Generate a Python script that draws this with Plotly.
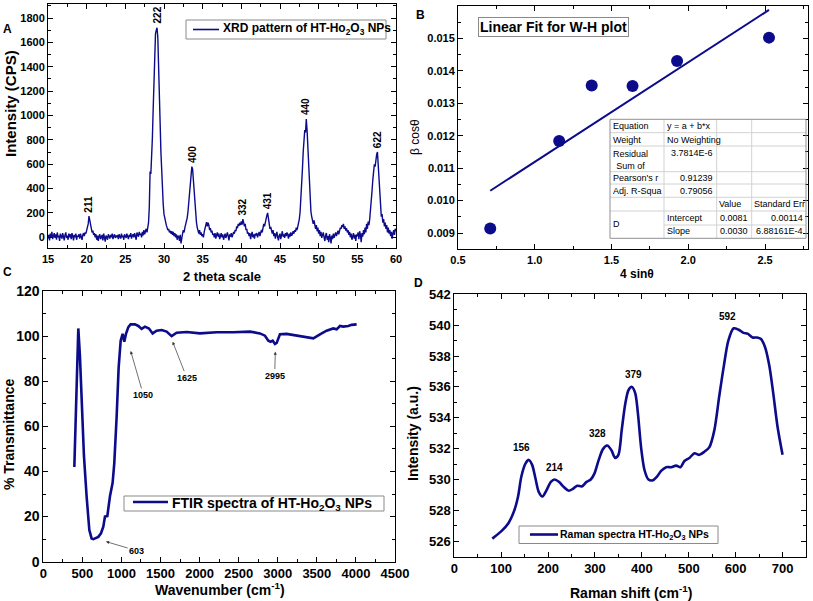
import numpy as np
import plotly.graph_objects as go

W, H = 813, 601
NAVY = '#0b0b8c'
FONT = 'Liberation Sans, Arial, sans-serif'

# ---------------- Panel A: XRD pattern ----------------
xrd_start, xrd_step = 15.0, 0.1
xrd_intensity = [
    -10, 20, -25, 30, 5, 45, -15, 10, 35, -5,
    25, -20, 40, 0, 15, -30, 30, 10, -10, 35,
    5, -25, 20, 40, -5, 15, -20, 30, 0, 25,
    -15, 35, 10, -25, 20, 0, 30, -20, 15, 5,
    25, -10, 30, 5, -20, 20, 35, 10, 40, 30,
    55, 80, 110, 175, 140, 95, 70, 40, 55, 20,
    35, 0, 25, -20, 15, -30, 10, 25, -15, 5,
    20, -25, 30, 0, -35, 15, 5, -20, 25, 10,
    -10, 20, 0, 30, -15, 10, 25, -5, 15, 0,
    20, -15, 25, 5, -10, 30, 0, 15, -20, 25,
    10, -5, 30, 15, -15, 20, 5, 35, -10, 15,
    25, 0, 35, 10, -20, 40, 15, 5, 45, 20,
    30, 0, 45, 15, 60, 25, 50, 70, 40, 80,
    120, 250, 540, 520, 640, 820, 1050, 1300, 1520, 1670,
    1700, 1720, 1640, 1460, 1200, 940, 700, 510, 370, 270,
    190, 150, 120, 100, 80, 60, 70, 40, 55, 30,
    50, 20, 45, 10, 35, 0, 25, -20, 15, 5,
    -30, 20, -50, 10, 30, 60, 40, 80, 100, 130,
    160, 210, 280, 370, 470, 550, 580, 560, 470, 360,
    260, 180, 120, 80, 50, 30, 60, 20, 40, 10,
    25, 0, 45, 70, 110, 125, 90, 120, 100, 60,
    75, 40, 55, 20, 30, 0, 35, -10, 20, 40,
    5, 30, -15, 20, 35, 0, 25, -20, 15, 30,
    -5, 20, 40, 10, -25, 25, 5, 35, 0, 20,
    45, 30, 60, 50, 90, 75, 110, 95, 120, 100,
    130, 105, 150, 120, 90, 110, 60, 70, 30, 40,
    10, 35, -15, 20, 45, 0, 25, -10, 30, 15,
    35, 0, 20, 45, 10, 30, 60, 40, 80, 110,
    90, 130, 160, 180, 200, 150, 110, 70, 85, 50,
    30, 60, 10, 35, -10, 20, 45, 0, -25, 15,
    30, -15, 20, 50, 5, 25, -5, 35, 10, 40,
    20, -10, 30, 5, 40, 15, 25, 50, 30, 60,
    45, 80, 60, 90, 110, 150, 210, 300, 420, 560,
    700, 820, 880, 860, 970, 880, 740, 560, 400, 290,
    210, 170, 130, 110, 140, 90, 70, 100, 50, 80,
    30, 60, 10, 45, -5, 20, 40, 0, -30, 15,
    35, -20, 10, -40, 25, 0, -50, 15, -15, 30,
    -5, 20, 40, 10, 30, 55, 25, 60, 80, 70,
    100, 85, 110, 70, 90, 55, 75, 40, 60, 20,
    45, 0, 30, -20, 15, 35, -10, 20, -30, 25,
    10, 40, -15, 50, 20, -40, 35, 5, 60, 25,
    80, 40, 110, 70, 130, 100, 150, 210, 290, 380,
    470, 540, 600, 580, 650, 680, 700, 600, 450, 320,
    230, 170, 190, 120, 150, 90, 120, 70, 100, 40,
    80, 30, 60, 10, 45, -10, 30, 60, 20, 70,
    50,
]
two_theta = np.round(xrd_start + xrd_step * np.arange(len(xrd_intensity)), 2)
xrd_peak_labels = ['211', '222', '400', '332', '431', '440', '622']
xrd_peak_pos = [20.3, 29.1, 33.7, 40.2, 43.4, 48.4, 57.6]

# ---------------- Panel B: W-H plot ----------------
wh_4sin = [0.71, 1.159, 1.371, 1.637, 1.927, 2.526]
wh_bcos = [0.00914, 0.011842, 0.013546, 0.013536, 0.014306, 0.015025]
fit_row_names = ["Equation", "Weight", "Residual<br>Sum of", "Pearson's r", "Adj. R-Squa"]
fit_row_values = ["y = a + b*x", "No Weighting", "3.7814E-6", "0.91239", "0.79056"]
fit_param_header = ["Value", "Standard Err"]
fit_param_rows = [["Intercept", "0.0081", "0.00114"], ["Slope", "0.0030", "6.88161E-4"]]

# ---------------- Panel C: FTIR ----------------
ftir_wavenumber = [397, 448, 469, 490, 520, 554, 589, 618, 640, 704,
                   738, 768, 789, 819, 853, 887, 908, 938, 964, 990,
                   1015, 1036, 1058, 1088, 1117, 1173, 1216, 1258, 1301, 1352,
                   1399, 1450, 1514, 1578, 1642, 1706, 1834, 2004, 2218, 2431,
                   2644, 2772, 2836, 2879, 2909, 2935, 2964, 2986, 3028, 3113,
                   3241, 3369, 3455, 3540, 3625, 3710, 3753, 3796, 3838, 3902,
                   3945, 4009]
ftir_transmittance = [42, 103.4, 91, 69, 47, 29, 14, 10.3, 10, 11,
                      12.6, 15.5, 20, 20.2, 29, 35, 43.6, 64, 86, 98,
                      101, 97.5, 101, 104, 105.2, 105.2, 104.5, 103.2, 104.2, 103.4,
                      101.2, 102.4, 102.7, 102, 100, 101.5, 101.8, 101.2, 101.7, 101.7,
                      102, 101.2, 100.2, 98, 97.5, 98, 96.5, 97, 100.8, 101,
                      100.2, 99.3, 99, 100.8, 102.4, 103.4, 103, 104.5, 104.2, 104.5,
                      105, 105.2]

# ---------------- Panel D: Raman ----------------
raman_shift = [81, 101, 115, 128, 136, 143, 152, 159, 166, 173,
               180, 188, 196.5, 206, 214, 223, 234, 244, 253, 262,
               272, 282, 291, 299, 308, 317, 326, 335, 343, 350,
               357, 364.5, 371.6, 378.7, 385.8, 391.5, 398.6, 405.7, 414, 423.4,
               432.6, 441, 451.8, 462.4, 473, 482.3, 490.8, 501.4, 512, 522.7,
               533.3, 544, 554.6, 565, 574.5, 584.4, 595.7, 606.4, 617, 625.5,
               636.2, 645.4, 654, 662.4, 671.6, 680.1, 689.4, 700]
raman_intensity = [526.17, 526.67, 527.15, 528.0, 528.9, 530.2, 531.05, 531.27, 530.95, 530.08,
                   529.2, 528.9, 529.3, 529.85, 530.0, 529.85, 529.5, 529.27, 529.4, 529.6,
                   529.55, 529.85, 530.0, 530.4, 531.27, 531.97, 532.2, 531.9, 531.4, 531.6,
                   533.2, 534.9, 535.8, 536.0, 535.6, 534.3, 532.0, 530.6, 530.0, 529.95,
                   530.2, 530.56, 530.8, 530.8, 530.9, 530.8, 531.2, 531.4, 531.7, 531.6,
                   531.8, 532.1, 533.2, 535.4, 537.3, 539.0, 539.8, 539.7, 539.5, 539.45,
                   539.2, 539.2, 539.1, 538.6, 537.4, 535.6, 533.4, 531.6]
raman_peaks = [156, 214, 328, 379, 592]

XRD_NAME = 'XRD pattern of HT-Ho<sub>2</sub>O<sub>3</sub> NPs'
FTIR_NAME = 'FTIR spectra of HT-Ho<sub>2</sub>O<sub>3</sub> NPs'
RAMAN_NAME = 'Raman spectra HT-Ho<sub>2</sub>O<sub>3</sub> NPs'


def px(x):
    return x / W


def py(y):
    return 1 - y / H


def axis(domain, rng, dtick, minor, tick0, anchor, size, fmt=None):
    d = dict(domain=domain, range=rng, dtick=dtick, tick0=tick0, anchor=anchor,
             automargin=False,
             showline=True, linecolor='black', linewidth=1, mirror='allticks',
             ticks='inside', ticklen=5, tickwidth=1, tickcolor='black',
             showgrid=False, zeroline=False,
             tickfont=dict(family=FONT, size=size, color='black', weight='bold'),
             minor=dict(dtick=minor, tick0=tick0, ticks='inside', ticklen=3,
                        tickcolor='black', showgrid=False))
    if fmt:
        d['tickformat'] = fmt
    return d


fig = go.Figure()

fig.add_trace(go.Scatter(x=two_theta, y=xrd_intensity, mode='lines',
                         line=dict(color=NAVY, width=1.4), name=XRD_NAME,
                         showlegend=False, xaxis='x', yaxis='y'))

fig.add_trace(go.Scatter(x=wh_4sin, y=wh_bcos, mode='markers',
                         marker=dict(color=NAVY, size=12), showlegend=False,
                         xaxis='x2', yaxis='y2'))
slope, intercept = np.polyfit(wh_4sin, wh_bcos, 1)
fit_x = np.array([min(wh_4sin), max(wh_4sin)])
fig.add_trace(go.Scatter(x=fit_x, y=intercept + slope * fit_x, mode='lines',
                         line=dict(color=NAVY, width=2), showlegend=False,
                         xaxis='x2', yaxis='y2'))

fig.add_trace(go.Scatter(x=ftir_wavenumber, y=ftir_transmittance, mode='lines',
                         line=dict(color=NAVY, width=2.6), name=FTIR_NAME,
                         showlegend=False, xaxis='x3', yaxis='y3'))

fig.add_trace(go.Scatter(x=raman_shift, y=raman_intensity, mode='lines',
                         line=dict(color=NAVY, width=2.6, shape='spline', smoothing=0.8),
                         name=RAMAN_NAME, showlegend=False, xaxis='x4', yaxis='y4'))

ann = []
shapes = []


def text(x, y, t, size, xa='center', ya='middle', bold=True, angle=0):
    ann.append(dict(x=px(x), y=py(y), xref='paper', yref='paper', text=t, showarrow=False,
                    xanchor=xa, yanchor=ya, textangle=angle, borderpad=0,
                    font=dict(family=FONT, size=size, color='black',
                              weight='bold' if bold else 'normal')))


def legend_box(x0, y0, x1, y1, lx0, lx1, ly, lw, tx, label, size):
    shapes.append(dict(type='rect', xref='paper', yref='paper', layer='above',
                       x0=px(x0), x1=px(x1), y0=py(y1), y1=py(y0),
                       line=dict(color='#8a8a8a', width=1), fillcolor='white'))
    shapes.append(dict(type='line', xref='paper', yref='paper', layer='above',
                       x0=px(lx0), x1=px(lx1), y0=py(ly), y1=py(ly),
                       line=dict(color=NAVY, width=lw)))
    text(tx, (y0 + y1) / 2, label, size, xa='left')


# panel letters
text(7, 29, 'A', 12)
text(420, 15, 'B', 12)
text(7, 272, 'C', 12)
text(418, 283, 'D', 12)

# axis titles
text(222, 276, '2 theta scale', 13)
text(10, 104, 'Intensity (CPS)', 15, angle=-90)
text(637, 274, '4 sin\u03b8', 12)
text(415, 137, '\u03b2 cos\u03b8', 12, bold=False, angle=-90)
text(220, 589, 'Wavenumber (cm<sup>-1</sup>)', 14)
text(9, 435, '% Transmittance', 14, angle=-90)
text(631, 592, 'Raman shift (cm<sup>-1</sup>)', 14)
text(413, 434, 'Intensity (a.u.)', 14, angle=-90)

# XRD peak labels
for lab, pos in zip(xrd_peak_labels, xrd_peak_pos):
    sel = [v for t, v in zip(two_theta, xrd_intensity) if abs(t - pos) <= 0.3]
    ann.append(dict(x=pos, y=max(sel) + 15, xref='x', yref='y', text=lab, showarrow=False,
                    textangle=-90, xanchor='center', yanchor='bottom',
                    font=dict(family=FONT, size=10, color='black', weight='bold')))

# Raman peak labels
raman_xshift = [-6, 0, -11, 1, -4]
for pk, xs in zip(raman_peaks, raman_xshift):
    sel = [v for s, v in zip(raman_shift, raman_intensity) if abs(s - pk) <= 12]
    ann.append(dict(x=pk, y=max(sel) + 0.3, xref='x4', yref='y4', text=str(pk), showarrow=False,
                    xanchor='center', yanchor='bottom', xshift=xs,
                    font=dict(family=FONT, size=10, color='black', weight='bold')))

# FTIR arrows
ftir_arrows = [('603', 802, 8.9, 1195, 4.9), ('1050', 1118, 93.4, 1280, 73.9),
               ('1625', 1655, 97.5, 1835, 81.6), ('2995', 2969, 93.1, 2960, 82.5)]
for lab, hx, hy, tx, ty in ftir_arrows:
    ann.append(dict(x=hx, y=hy, ax=tx, ay=ty, xref='x3', yref='y3', axref='x3', ayref='y3',
                    text=lab, showarrow=True, arrowhead=2, arrowsize=0.9, arrowwidth=0.7,
                    arrowcolor='#333333',
                    font=dict(family=FONT, size=9, color='black', weight='bold')))

# Linear fit label box
ann.append(dict(x=px(553.5), y=py(27.2), xref='paper', yref='paper',
                text='Linear Fit for W-H plot', showarrow=False, xanchor='center', yanchor='middle',
                bordercolor='#8a8a8a', borderwidth=1, borderpad=1, bgcolor='white',
                font=dict(family=FONT, size=14, color='black', weight='bold')))

# Fit table
TL, TR, TT, TB = 610, 806, 119.3, 238.3
cols = [664, 716.7, 751.7]
rows = [132.7, 146, 171.7, 184, 197.3, 211]
for r in rows:
    shapes.append(dict(type='line', xref='paper', yref='paper', x0=px(TL), x1=px(TR),
                       y0=py(r), y1=py(r), line=dict(color='#d2d2d2', width=1)))
shapes.append(dict(type='line', xref='paper', yref='paper', x0=px(cols[0]), x1=px(TR),
                   y0=py(225), y1=py(225), line=dict(color='#d2d2d2', width=1)))
for c in cols:
    shapes.append(dict(type='line', xref='paper', yref='paper', x0=px(c), x1=px(c),
                       y0=py(TT), y1=py(TB), line=dict(color='#d2d2d2', width=1)))
shapes.append(dict(type='rect', xref='paper', yref='paper', x0=px(TL), x1=px(TR),
                   y0=py(TB), y1=py(TT), line=dict(color='#909090', width=1)))

row_y = [126, 139.5, None, 178, 191.5]
for i, (nm, val) in enumerate(zip(fit_row_names, fit_row_values)):
    if i == 2:
        text(612, 147.5, nm, 9, xa='left', ya='top', bold=False)
        text(714, 153, val, 9, xa='right', bold=False)
    elif i < 2:
        text(612, row_y[i], nm, 9, xa='left', bold=False)
        text(666, row_y[i], val, 9, xa='left', bold=False)
    else:
        text(612, row_y[i], nm, 9, xa='left', bold=False)
        text(714, row_y[i], val, 9, xa='right', bold=False)
text(718, 204, fit_param_header[0], 9, xa='left', bold=False)
text(753, 204, fit_param_header[1], 9, xa='left', bold=False)
text(612, 224, 'D', 9, xa='left', bold=False)
for (nm, v, e), yy in zip(fit_param_rows, [217.5, 231]):
    text(666, yy, nm, 9, xa='left', bold=False)
    text(749, yy, v, 9, xa='right', bold=False)
    text(804, yy, e, 9, xa='right', bold=False)

# legends (drawn boxes)
legend_box(186, 20, 386, 39, 193, 219, 29.5, 1.6, 222, XRD_NAME, 12)
legend_box(124, 496, 384, 511, 133, 168, 502, 2.6, 171, FTIR_NAME, 14)
legend_box(519, 526, 718, 543.5, 530, 558, 534.5, 2.6, 559, RAMAN_NAME, 10.5)

fig.update_layout(
    width=W, height=H, margin=dict(l=0, r=0, t=0, b=0, autoexpand=False),
    paper_bgcolor='white', plot_bgcolor='white', showlegend=False,
    xaxis=axis([px(48), px(396)], [15, 60], 5, 2.5, 15, 'y', 11),
    yaxis=axis([py(248.3), py(4)], [-90, 1915], 200, 100, 0, 'x', 11),
    xaxis2=axis([px(458), px(808)], [0.5, 2.78], 0.5, 0.25, 0.5, 'y2', 11, '.1f'),
    yaxis2=axis([py(249.3), py(6)], [0.0085, 0.016], 0.001, 0.0005, 0.009, 'x2', 11, '.3f'),
    xaxis3=axis([px(43.3), px(395)], [0, 4500], 500, 250, 0, 'y3', 13),
    yaxis3=axis([py(561.7), py(291)], [0, 120], 20, 10, 0, 'x3', 14),
    xaxis4=axis([px(454.3), px(806)], [0, 750], 100, 50, 0, 'y4', 13),
    yaxis4=axis([py(556.7), py(294.3)], [525, 542], 2, 1, 526, 'x4', 13),
    annotations=ann, shapes=shapes,
)

fig.write_html('out.html', config={'displayModeBar': False},
               post_script="document.body.style.margin='0';")
